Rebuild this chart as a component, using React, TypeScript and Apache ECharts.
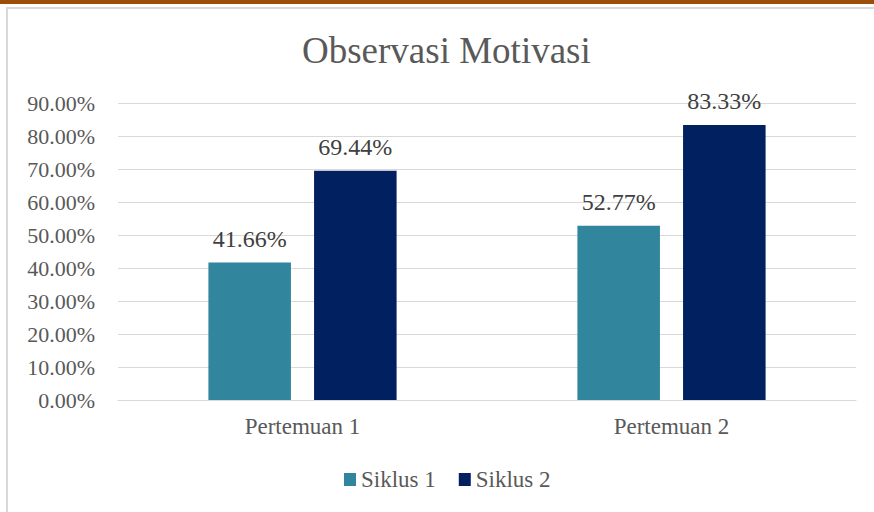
import React, { useEffect, useRef } from "react";
import * as echarts from "echarts";

const categories = ["Pertemuan 1", "Pertemuan 2"];
const seriesNames = ["Siklus 1", "Siklus 2"];
const siklus1 = [41.66, 52.77];
const siklus2 = [69.44, 83.33];
const colors = ["#31859C", "#002060"];
const FONT = "'Liberation Serif', 'Times New Roman', serif";

export default function App() {
  const ref = useRef<HTMLDivElement>(null);
  useEffect(() => {
    if (!ref.current) return;
    const chart = echarts.init(ref.current, null, { renderer: "svg" });
    const label = {
      show: true,
      position: "top",
      distance: 12,
      color: "#404040",
      fontSize: 24,
      fontFamily: FONT,
      formatter: (p: any) => p.value.toFixed(2) + "%",
    };
    chart.setOption({
      animation: false,
      backgroundColor: "#ffffff",
      textStyle: { fontFamily: FONT },
      title: {
        text: "Observasi Motivasi",
        left: 297,
        top: 27,
        textStyle: { fontSize: 37, fontWeight: "normal", color: "#595959", fontFamily: FONT },
      },
      graphic: [
        { type: "rect", shape: { x: 0, y: 0, width: 874, height: 4 }, style: { fill: "#9C4F0A" }, silent: true },
        {
          type: "rect",
          shape: { x: 7, y: 8, width: 900, height: 600 },
          style: { fill: "none", stroke: "#d9d9d9", lineWidth: 2 },
          silent: true,
        },
      ],
      legend: {
        data: seriesNames,
        top: 463,
        left: 339,
        itemWidth: 12,
        itemHeight: 13,
        itemGap: 23,
        icon: "rect",
        textStyle: { fontSize: 23, color: "#595959", fontFamily: FONT },
      },
      grid: { left: 118, right: 18, top: 103, bottom: 112, containLabel: false },
      xAxis: {
        type: "category",
        data: categories,
        axisLine: { lineStyle: { color: "#d9d9d9", width: 1 } },
        axisTick: { show: false },
        axisLabel: { fontSize: 23, color: "#595959", margin: 15, fontFamily: FONT },
      },
      yAxis: {
        type: "value",
        min: 0,
        max: 90,
        interval: 10,
        axisLine: { show: false },
        axisTick: { show: false },
        splitLine: { lineStyle: { color: "#d9d9d9", width: 1 } },
        axisLabel: {
          fontSize: 22,
          color: "#595959",
          margin: 23,
          fontFamily: FONT,
          formatter: (v: number) => v.toFixed(2) + "%",
        },
      },
      series: [
        {
          name: seriesNames[0],
          type: "bar",
          data: siklus1,
          itemStyle: { color: colors[0] },
          barGap: "28%",
          barCategoryGap: "49%",
          label,
        },
        {
          name: seriesNames[1],
          type: "bar",
          data: siklus2,
          itemStyle: { color: colors[1] },
          barGap: "28%",
          barCategoryGap: "49%",
          label,
        },
      ],
    });
    return () => chart.dispose();
  }, []);
  return <div ref={ref} style={{ position: "fixed", left: 0, top: 0, width: 874, height: 512 }} />;
}
